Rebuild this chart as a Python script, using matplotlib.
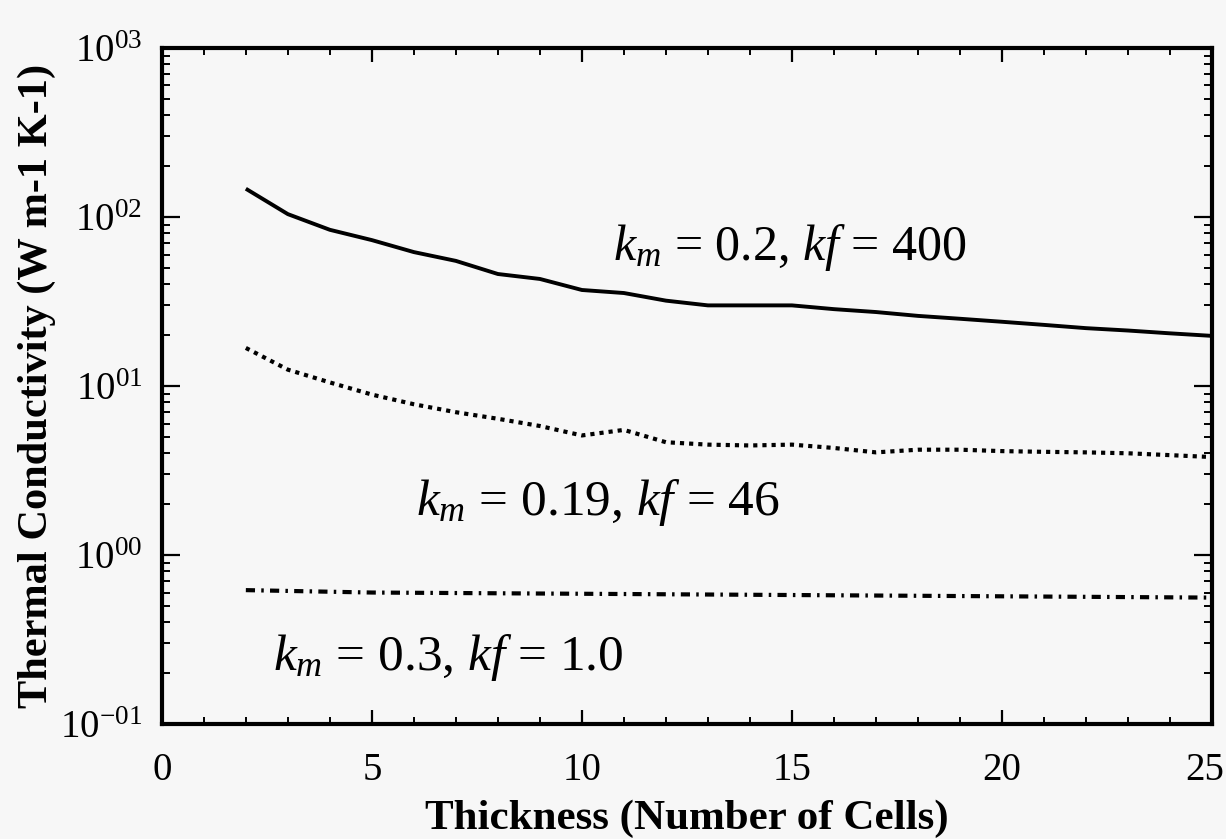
import matplotlib
matplotlib.use("Agg")
import matplotlib.pyplot as plt
from matplotlib.ticker import LogLocator, MultipleLocator, FixedLocator, FuncFormatter, NullFormatter
from matplotlib.transforms import ScaledTranslation
import numpy as np

# ---- data ----
thickness = [2, 3, 4, 5, 6, 7, 8, 9, 10, 11, 12, 13, 14, 15, 16, 17, 18, 19, 20, 21, 22, 23, 24, 25]
k_400 = [147, 104, 84, 73, 62, 55, 46, 43, 37, 35.5, 32, 30, 30, 30, 28.5, 27.4, 26, 25, 24, 23, 22, 21.3, 20.5, 19.8]
k_46 = [16.8, 12.5, 10.5, 8.9, 7.8, 7.0, 6.4, 5.8, 5.1, 5.5, 4.65, 4.5, 4.45, 4.5, 4.3, 4.05, 4.2, 4.2, 4.12, 4.08, 4.05, 4.0, 3.9, 3.8]
thickness_1 = [2, 5, 10, 15, 20, 25]
k_1 = [0.62, 0.60, 0.59, 0.58, 0.57, 0.56]

labels = [r"$k_m$ = 0.2, $kf$ = 400", r"$k_m$ = 0.19, $kf$ = 46", r"$k_m$ = 0.3, $kf$ = 1.0"]
x_ticks = [0, 5, 10, 15, 20, 25]
y_ticks = [0.1, 1, 10, 100, 1000]

plt.rcParams['font.family'] = ['Liberation Serif', 'DejaVu Serif']
plt.rcParams['mathtext.fontset'] = 'custom'
plt.rcParams['mathtext.rm'] = 'Liberation Serif'
plt.rcParams['mathtext.it'] = 'Liberation Serif:italic'
plt.rcParams['mathtext.bf'] = 'Liberation Serif:bold'

bg = '#f7f7f7'
fig = plt.figure(figsize=(12.26, 8.39), dpi=100, facecolor=bg)
ax = fig.add_axes([0.132, 0.137, 0.8566, 0.8058], facecolor=bg)

ax.plot(thickness, k_400, color='black', lw=2.8, solid_capstyle='butt')
ax.plot(thickness, k_46, color='black', lw=3.0, linestyle=(0, (1, 1.2)))
ax.plot(thickness_1, k_1, color='black', lw=3.0, linestyle=(0, (2.2, 1.5, 0.6, 1.5)))

ax.set_yscale('log')
ax.set_xlim(0, 25)
ax.set_ylim(0.1, 1000)

ax.xaxis.set_major_locator(FixedLocator(x_ticks))
ax.xaxis.set_minor_locator(MultipleLocator(1))
ax.yaxis.set_major_locator(FixedLocator(y_ticks))
ax.yaxis.set_minor_locator(LogLocator(base=10, subs=np.arange(2, 10)))
ax.yaxis.set_minor_formatter(NullFormatter())

def yfmt(v, pos):
    e = int(round(np.log10(v)))
    s = ("-%02d" % abs(e)) if e < 0 else ("%02d" % e)
    return r"$\mathregular{10^{%s}}$" % s
ax.yaxis.set_major_formatter(FuncFormatter(yfmt))

ax.tick_params(which='both', direction='in', top=True, right=True, color='black')
ax.tick_params(which='major', length=13, width=1.6, labelsize=28)
ax.tick_params(which='minor', length=6, width=1.4)
ax.tick_params(axis='x', which='minor', length=5)
ax.tick_params(axis='x', which='major', length=10, pad=20)
ax.tick_params(axis='y', which='major', pad=14)

for sp in ax.spines.values():
    sp.set_linewidth(3.0)

ax.set_xlabel('Thickness (Number of Cells)', fontsize=31, fontweight='bold')
ax.xaxis.set_label_coords(0.5, -0.112)
ax.set_ylabel('Thermal Conductivity (W m-1 K-1)', fontsize=30.5, fontweight='bold')
ax.yaxis.set_label_coords(-0.101, 0.5)

fig.canvas.draw()
last = ax.get_xticklabels()[-1]
last.set_horizontalalignment('right')
last.set_transform(last.get_transform() + ScaledTranslation(12 / 100, 0, fig.dpi_scale_trans))

ax.text(10.75, 56, labels[0], fontsize=36, ha='left', va='baseline')
ax.text(6.05, 1.73, labels[1], fontsize=37, ha='left', va='baseline')
ax.text(2.65, 0.21, labels[2], fontsize=37, ha='left', va='baseline')

fig.savefig('out.png', dpi=100, facecolor=bg)
